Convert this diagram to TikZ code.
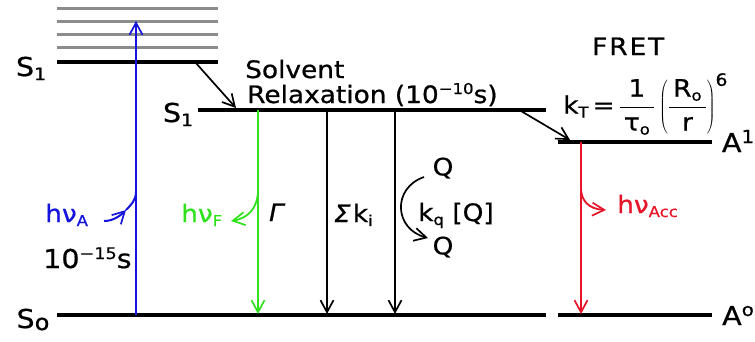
\documentclass[tikz,border=0pt]{standalone}
\usepackage{fontspec}
\usetikzlibrary{arrows.meta}
\newfontfamily\hand[FakeStretch=1.1,FakeBold=0.7]{DejaVu Sans}
\newfontfamily\handit[FakeStretch=1.1,FakeBold=0.7,FakeSlant=0.2]{DejaVu Sans}
\definecolor{ablue}{RGB}{20,20,220}
\definecolor{agreen}{RGB}{50,225,30}
\definecolor{ared}{RGB}{230,20,40}
\definecolor{vgray}{RGB}{140,140,140}
\newcommand\lsub[2][15]{\raisebox{-4pt}{\fontsize{#1}{#1}\selectfont #2}}
\newcommand\lsup[2][15]{\raisebox{9pt}{\fontsize{#1}{#1}\selectfont #2}}
\begin{document}
\begin{tikzpicture}[x=1pt,y=-1pt,
  level/.style={line width=3.2pt},
  vib/.style={line width=2.2pt, color=vgray},
  tip/.style={-{Straight Barb[length=12pt,width=13pt,line width=1.7pt]}},
  trans/.style={line width=1.7pt, tip},
  lbl/.style={font=\hand\fontsize{26}{26}\selectfont, inner sep=0pt},
  txt/.style={font=\hand\fontsize{24}{24}\selectfont, inner sep=0pt},
]
\useasboundingbox (0,0) rectangle (755,341);
% vibrational levels
\foreach \y [count=\i] in {8.5,21.5,34.5,47.5}{
  \coordinate (v\i l) at (57,\y); \coordinate (v\i r) at (218,\y);
  \draw[vib] (v\i l) -- (v\i r);
}
% electronic levels
\coordinate (s1al) at (57,62);   \coordinate (s1ar) at (218,62);
\coordinate (s1bl) at (198,110); \coordinate (s1br) at (546,110);
\coordinate (a1l) at (558,142);  \coordinate (a1r) at (712,142);
\coordinate (s0l) at (57,315);   \coordinate (s0r) at (546,315);
\coordinate (a0l) at (558,315);  \coordinate (a0r) at (712,315);
\draw[level] (s1al) -- (s1ar);
\draw[level] (s1bl) -- (s1br);
\draw[level] (a1l) -- (a1r);
\draw[level] (s0l) -- (s0r);
\draw[level] (a0l) -- (a0r);
% level labels
\node[lbl, anchor=base] (ls1a) at (31,76) {S\lsub[17]{1}};
\node[lbl, anchor=base] (ls1b) at (178,122) {S\lsub[17]{1}};
\node[lbl, anchor=base] (ls0) at (33,328) {S\raisebox{-2pt}{\fontsize{22}{22}\selectfont o}};
\node[lbl, anchor=base] (la1) at (738,152) {A\lsup[18]{1}};
\node[lbl, anchor=base] (la0) at (738,325) {A\lsup[18]{o}};
% transitions
\coordinate (bb) at (136,315); \coordinate (bt) at (136,21);
\draw[trans, ablue, line width=2.2pt] (bb) -- (bt);
\coordinate (d1a) at (195,62); \coordinate (d1b) at (236,108);
\draw[trans] (d1a) -- (d1b);
\coordinate (gt) at (258,110); \coordinate (gb) at (258,314);
\draw[trans, agreen] (gt) -- (gb);
\coordinate (k1t) at (327,110); \coordinate (k1b) at (327,314);
\draw[trans] (k1t) -- (k1b);
\coordinate (k2t) at (395,110); \coordinate (k2b) at (395,314);
\draw[trans] (k2t) -- (k2b);
\coordinate (d2a) at (521,111); \coordinate (d2b) at (570,140);
\draw[trans] (d2a) -- (d2b);
\coordinate (rt) at (581,142); \coordinate (rb) at (581,314);
\draw[trans, ared, line width=2pt] (rt) -- (rb);
% photon hooks
\coordinate (ha0) at (104,221); \coordinate (ha1) at (126,210); \coordinate (ha2) at (136,192);
\draw[line width=2pt, ablue, tip] (ha0) .. controls (113,221) and (120,216) .. (ha1);
\draw[line width=2pt, ablue] (ha1) .. controls (131,205) and (136,200) .. (ha2);
\coordinate (hf0) at (258,190); \coordinate (hf1) at (231,221);
\draw[line width=1.8pt, agreen, tip] (hf0) .. controls (258,207) and (249,218) .. (hf1);
\coordinate (hr0) at (581,188); \coordinate (hr1) at (606,210);
\draw[line width=1.8pt, ared, tip] (hr0) .. controls (581,201) and (589,209) .. (hr1);
% quenching
\coordinate (q0) at (424,177); \coordinate (q1) at (428,238);
\draw[line width=1.7pt, tip] (q0) .. controls (392,188) and (394,229) .. (q1);
\node[txt] (qt) at (443,168) {Q};
\node[txt] (qb) at (443,247) {Q};
% texts
\node[txt, anchor=base west] (solv) at (245,78) {Solvent};
\node[txt, anchor=base west] (relax) at (247,103) {Relaxation (10\lsup[15]{−10}s)};
\node[txt, anchor=base west] (fret) at (592,55) {\addfontfeature{LetterSpace=8}FRET};
\node[txt, text=ablue, anchor=base west] (hva) at (45,222) {hν\lsub{A}};
\node[lbl, anchor=base west] (t15) at (43,268) {10\lsup[16]{−15}s};
\node[txt, text=agreen, anchor=base west] (hvf) at (181,222) {hν\lsub{F}};
\node[txt, anchor=base west] (gam) at (267,221) {\handit Γ};
\node[txt, anchor=base west] (sig) at (332,222) {{\handit Σ}\,k\lsub{i}};
\node[txt, anchor=base west] (kq) at (418,221) {k\lsub{q} [Q]};
\node[txt, text=ared, anchor=base west] (hvacc) at (617,213) {hν\lsub{Acc}};
\node[txt, anchor=west, inner sep=0pt] (kt) at (563,104)
  {k\lsub{T}\,=\,$\displaystyle\frac{\hbox{\,1\,}}{\hbox{\,τ\lsub{o}\,}}\left(\frac{\hbox{\,R\lsub{o}\,}}{\hbox{r}}\right)^{\hbox{\fontsize{17}{17}\selectfont 6}}$};
\end{tikzpicture}
\end{document}
